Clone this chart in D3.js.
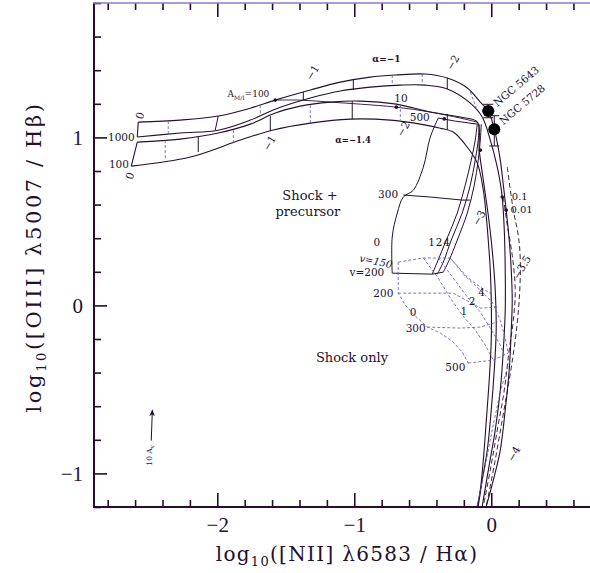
<!DOCTYPE html>
<html><head><meta charset="utf-8">
<script src="https://cdn.jsdelivr.net/npm/d3@7"></script>
<style>body{margin:0;background:#fff}svg{display:block}</style>
</head><body>
<svg id="c" width="590" height="573"></svg>
<script>
// ---------------- DATA (log10 [NII]/Ha , log10 [OIII]/Hb) ----------------
const xMajorTicks = [-2, -1, 0];
const yMajorTicks = [-1, 0, 1];
const xTickLabels = ["\u22122", "\u22121", "0"];
const yTickLabels = ["\u22121", "0", "1"];

// precursor, alpha = -1 band
const alpha1Upper = [[-2.577,1.091],[-2.270,1.103],[-1.993,1.127],[-1.759,1.174],[-1.577,1.222],[-1.321,1.282],[-1.102,1.329],[-0.883,1.359],[-0.701,1.371],[-0.482,1.377],[-0.321,1.353],[-0.175,1.294],[-0.080,1.210],[-0.022,1.157],[0.022,1.049],[0.066,0.865],[0.088,0.716],[0.109,0.567],[0.131,0.389],[0.146,0.210],[0.153,0.032],[0.146,-0.147],[0.131,-0.385],[0.102,-0.623],[0.066,-0.861],[0.015,-1.040],[-0.036,-1.195]];
const alpha1Lower = [[-2.584,1.002],[-2.270,1.026],[-1.993,1.043],[-1.759,1.103],[-1.577,1.168],[-1.321,1.234],[-1.102,1.276],[-0.883,1.299],[-0.664,1.311],[-0.482,1.311],[-0.321,1.288],[-0.153,1.204],[-0.066,1.121],[-0.007,0.984],[0.044,0.823],[0.066,0.728],[0.080,0.645],[0.095,0.448],[0.102,0.210],[0.102,-0.028],[0.088,-0.266],[0.066,-0.504],[0.029,-0.742],[-0.015,-0.951],[-0.066,-1.195]];
// precursor, alpha = -1.4 band
const alpha14Upper = [[-2.584,0.972],[-2.270,0.990],[-1.993,1.026],[-1.759,1.079],[-1.577,1.145],[-1.394,1.186],[-1.175,1.210],[-0.956,1.216],[-0.693,1.198],[-0.445,1.151],[-0.226,1.121],[-0.102,1.091],[-0.088,0.924],[-0.058,0.746],[-0.022,0.538],[0.007,0.329],[0.029,0.091],[0.036,-0.147],[0.022,-0.385],[0.000,-0.623],[-0.029,-0.861],[-0.066,-1.040],[-0.095,-1.195]];
const alpha14Lower = [[-2.628,0.829],[-2.197,0.883],[-1.832,0.984],[-1.599,1.043],[-1.321,1.085],[-1.029,1.109],[-0.737,1.103],[-0.518,1.079],[-0.372,1.055],[-0.277,1.032],[-0.175,0.942],[-0.102,0.847],[-0.058,0.686],[-0.036,0.526],[-0.022,0.389],[-0.007,0.210],[0.000,0.032],[0.000,-0.207],[-0.015,-0.445],[-0.036,-0.683],[-0.058,-0.921],[-0.080,-1.100],[-0.102,-1.195]];
const alpha1Edge = [[-2.577,1.091],[-2.584,1.002]];
const alpha14Edge = [[-2.584,0.972],[-2.628,0.829]];
// log U cross ticks [x1,y1,x2,y2]
const alpha1TicksSolid = [[-1.993,1.127,-2.015,1.043],[-1.372,1.270,-1.372,1.222],[-1.007,1.347,-1.007,1.282],[-0.321,1.353,-0.321,1.288]];
const alpha1TicksDashed = [[-2.358,1.097,-2.358,1.020],[-1.686,1.192,-1.686,1.127],[-0.723,1.371,-0.723,1.311],[-0.504,1.377,-0.504,1.311],[-0.153,1.270,-0.109,1.175]];
const alpha14TicksSolid = [[-2.139,1.008,-2.139,0.913],[-1.613,1.127,-1.613,1.038],[-1.015,1.216,-1.015,1.109],[-0.321,1.140,-0.321,1.045]];
const alpha14TicksDashed = [[-2.380,0.984,-2.380,0.865],[-1.883,1.043,-1.883,0.966],[-1.321,1.192,-1.321,1.085],[-0.664,1.198,-0.664,1.103]];
// A(M/I) sequence
const amiSequence = [[-1.577,1.222],[-1.394,1.222],[-1.175,1.210],[-0.956,1.198],[-0.693,1.180],[-0.445,1.151],[-0.226,1.115],[-0.102,1.091]];

// shock + precursor grid
const spB0 = [[-0.387,1.115],[-0.445,1.002],[-0.496,0.823],[-0.569,0.686],[-0.642,0.645],[-0.686,0.550],[-0.723,0.407],[-0.723,0.192]];
const spB1 = [[-0.431,0.186],[-0.394,0.258],[-0.328,0.389],[-0.248,0.550],[-0.190,0.716],[-0.146,0.865],[-0.117,0.984],[-0.102,1.079]];
const spB2 = [[-0.394,0.186],[-0.350,0.258],[-0.292,0.389],[-0.212,0.550],[-0.153,0.716],[-0.117,0.865],[-0.095,0.984],[-0.088,1.079]];
const spB4 = [[-0.350,0.198],[-0.307,0.270],[-0.248,0.389],[-0.175,0.550],[-0.124,0.716],[-0.095,0.865],[-0.080,0.984],[-0.073,1.079]];
const spV500 = [[-0.387,1.115],[-0.263,1.097],[-0.102,1.079]];
const spV300 = [[-0.642,0.657],[-0.445,0.645],[-0.212,0.627],[-0.153,0.627]];
const spV200 = [[-0.723,0.192],[-0.431,0.186],[-0.350,0.198]];

// shock only grid
const soV150 = [[-0.679,0.258],[-0.496,0.282],[-0.299,0.282],[-0.175,0.168],[-0.080,0.109],[0.015,0.061]];
const soV200 = [[-0.679,0.073],[-0.445,0.073],[-0.277,0.073],[-0.080,-0.016],[0.044,-0.010]];
const soV300 = [[-0.467,-0.129],[-0.226,-0.135],[-0.080,-0.129],[0.044,-0.099]];
const soV500 = [[-0.168,-0.343],[0.015,-0.326],[0.124,-0.284]];
const soB0 = [[-0.679,0.258],[-0.679,0.073],[-0.628,0.002],[-0.562,-0.058],[-0.467,-0.129],[-0.372,-0.165],[-0.285,-0.213],[-0.212,-0.278],[-0.168,-0.343]];
const soB1 = [[-0.496,0.282],[-0.387,0.162],[-0.299,0.044],[-0.212,-0.058],[-0.117,-0.147],[-0.044,-0.236],[0.015,-0.326]];
const soB2 = [[-0.387,0.282],[-0.277,0.162],[-0.175,0.050],[-0.080,-0.040],[-0.007,-0.135],[0.066,-0.236],[0.102,-0.308]];
const soB4 = [[-0.299,0.282],[-0.190,0.174],[-0.080,0.091],[0.007,0.020],[0.066,-0.088],[0.102,-0.195],[0.124,-0.284]];

// extra dashed sequences on the right
const rightDashed1 = [[0.088,0.645],[0.117,0.478],[0.153,0.299],[0.175,0.091],[0.161,-0.088],[0.131,-0.266],[0.095,-0.504],[0.044,-0.742],[-0.007,-0.980],[-0.058,-1.195]];
const rightDashed2 = [[0.117,0.823],[0.161,0.567],[0.197,0.418],[0.212,0.270],[0.204,0.032],[0.175,-0.207],[0.131,-0.445],[0.080,-0.683],[0.022,-0.951],[-0.036,-1.195]];
const rightDashed3 = [[-0.102,-1.195],[-0.036,-0.921],[0.022,-0.683],[0.080,-0.475],[0.139,-0.326]];

// marked points on sequences
const markerDots = [[-1.577,1.222],[-0.693,1.180],[-0.343,1.110],[-0.080,0.924],[0.080,0.645],[0.109,0.567]];

// galaxies
const galaxyNames = ["NGC 5643", "NGC 5728"];
const galaxyX = [-0.022, 0.022];
const galaxyY = [1.157, 1.049];
const galaxyXErr = [0.045, 0.03];
const galaxyYErrLow = [0.04, 0.10];
const galaxyYErrHigh = [0.04, 0.08];

// reddening vector (10 A_V)
const reddeningVector = [[-2.482,-0.805],[-2.474,-0.623]];

// ---------------- DRAWING ----------------
const svg = d3.select('#c');
const x = d3.scaleLinear().domain([-2.9, 0.75]).range([94, 594]);
const y = d3.scaleLinear().domain([-1.2, 1.8]).range([507, 3]);

const INK = '#24102c', BLUE = '#5b50b8';
const serif = "'DejaVu Serif', serif";

svg.append('defs').append('clipPath').attr('id','clip')
  .append('rect').attr('x',94).attr('y',3).attr('width',500).attr('height',504);
svg.select('defs').append('marker').attr('id','arr').attr('viewBox','0 0 10 10')
  .attr('refX',9).attr('refY',5).attr('markerWidth',7).attr('markerHeight',7).attr('orient','auto')
  .append('path').attr('d','M0,1 L10,5 L0,9 L3,5 Z').attr('fill',INK);

const g = svg.append('g').attr('clip-path','url(#clip)');
const smooth = d3.line().x(d=>x(d[0])).y(d=>y(d[1])).curve(d3.curveCatmullRom.alpha(0.5));
const straight = d3.line().x(d=>x(d[0])).y(d=>y(d[1]));

function draw(data, gen, color, width, dash){
  g.append('path').attr('d', gen(data)).attr('fill','none').attr('stroke',color)
   .attr('stroke-width',width).attr('stroke-dasharray',dash||null);
}
[alpha1Upper, alpha1Lower, alpha14Upper, alpha14Lower].forEach(c=>draw(c, smooth, INK, 1.1));
[alpha1Edge, alpha14Edge].forEach(c=>draw(c, straight, INK, 1.1));
draw(amiSequence, smooth, INK, 0.9);
[spB0, spB1, spB2, spB4].forEach(c=>draw(c, smooth, INK, 1.0));
[spV500, spV300, spV200].forEach(c=>draw(c, straight, INK, 1.0));
[soV150, soV200, soV300, soV500, soB0, soB1, soB2, soB4].forEach(c=>draw(c, straight, BLUE, 0.8, '3,2'));
[rightDashed1, rightDashed2].forEach(c=>draw(c, smooth, INK, 0.9, '5,3'));
draw(rightDashed3, smooth, BLUE, 0.8, '3,2');

function ticks(list, color, width, dash){
  list.forEach(t=>g.append('line').attr('x1',x(t[0])).attr('y1',y(t[1])).attr('x2',x(t[2])).attr('y2',y(t[3]))
    .attr('stroke',color).attr('stroke-width',width).attr('stroke-dasharray',dash||null));
}
ticks(alpha1TicksSolid, INK, 1.0); ticks(alpha14TicksSolid, INK, 1.0);
ticks(alpha1TicksDashed, BLUE, 0.8, '3,2'); ticks(alpha14TicksDashed, BLUE, 0.8, '3,2');

markerDots.forEach(d=>g.append('circle').attr('cx',x(d[0])).attr('cy',y(d[1])).attr('r',1.8).attr('fill',INK));

// galaxies with error bars
galaxyNames.forEach((n,i)=>{
  const cx=x(galaxyX[i]), cy=y(galaxyY[i]);
  const yl=y(galaxyY[i]-galaxyYErrLow[i]), yh=y(galaxyY[i]+galaxyYErrHigh[i]);
  const xl=x(galaxyX[i]-galaxyXErr[i]), xh=x(galaxyX[i]+galaxyXErr[i]);
  g.append('line').attr('x1',cx).attr('x2',cx).attr('y1',yl).attr('y2',yh).attr('stroke',INK).attr('stroke-width',1);
  g.append('line').attr('x1',cx-5).attr('x2',cx+5).attr('y1',yl).attr('y2',yl).attr('stroke',INK).attr('stroke-width',1);
  g.append('line').attr('x1',cx-5).attr('x2',cx+5).attr('y1',yh).attr('y2',yh).attr('stroke',INK).attr('stroke-width',1);
  g.append('line').attr('x1',xl).attr('x2',xh).attr('y1',cy).attr('y2',cy).attr('stroke',INK).attr('stroke-width',1);
  g.append('circle').attr('cx',cx).attr('cy',cy).attr('r',6).attr('fill','#000');
  svg.append('text').attr('transform',`translate(${cx+9},${cy-4}) rotate(-40)`)
    .attr('font-family',serif).attr('font-size',10.5).attr('fill',INK).text(n);
});

// reddening arrow
svg.append('line').attr('x1',x(reddeningVector[0][0])).attr('y1',y(reddeningVector[0][1]))
  .attr('x2',x(reddeningVector[1][0])).attr('y2',y(reddeningVector[1][1]))
  .attr('stroke',INK).attr('stroke-width',1).attr('marker-end','url(#arr)');
{
  const t = svg.append('text').attr('transform',`translate(${x(reddeningVector[0][0])+1},${y(reddeningVector[0][1])+25}) rotate(-90)`)
    .attr('font-family',serif).attr('font-size',7.5).attr('fill',INK);
  t.append('tspan').text('10 A');
  t.append('tspan').attr('font-size',5.5).attr('dy',2).text('v');
}

// annotations
function lab(txt, dx, dy, opts={}){
  const t = svg.append('text').attr('font-family',serif).attr('font-size',opts.size||9.5).attr('fill',INK)
    .attr('text-anchor',opts.anchor||'start').attr('font-weight',opts.bold?'bold':null)
    .attr('font-style',opts.italic?'italic':null)
    .attr('transform',`translate(${x(dx)},${y(dy)})`+(opts.rot?` rotate(${opts.rot})`:''));
  t.text(txt);
  return t;
}
lab('\u03b1=\u22121', -0.869, 1.448, {bold:true, size:9});
lab('\u03b1=\u22121.4', -1.139, 0.966, {bold:true, size:8.5});
{
  const t = svg.append('text').attr('font-family',serif).attr('font-size',9).attr('fill',INK)
    .attr('transform',`translate(${x(-1.925)},${y(1.240)})`);
  t.append('tspan').text('A');
  t.append('tspan').attr('font-size',6).attr('dy',2.5).text('M/I');
  t.append('tspan').attr('dy',-2.5).text('=100');
}
lab('0', -2.548, 1.103, {rot:-70, size:10.5});
lab('1000', -2.603, 0.978, {anchor:'end', size:10.5});
lab('100', -2.645, 0.817, {anchor:'end', size:10.5});
lab('0', -2.62, 0.745, {rot:-70, size:10.5});
lab('\u22121', -1.31, 1.335, {rot:-60, size:10.5});
lab('\u22121', -1.625, 0.915, {rot:-60, size:10.5});
lab('\u22122', -0.285, 1.395, {rot:-60, size:10.5});
lab('\u22122', -0.648, 1.000, {rot:-60, size:10.5});
lab('\u22123', -0.095, 0.470, {rot:-60, size:10.5});
lab('\u22123.5', 0.20, 0.150, {rot:-60, size:10.5});
lab('\u22124', 0.16, -0.935, {rot:-60, size:10.5});
lab('10', -0.708, 1.212, {size:10.5});
lab('500', -0.595, 1.100, {size:10.5});
lab('Shock +', -1.525, 0.625, {size:13});
lab('precursor', -1.575, 0.535, {size:13});
lab('300', -0.68, 0.640, {anchor:'end', size:10.5});
lab('0', -0.86, 0.355, {size:10.5});
lab('1', -0.46, 0.355, {size:10.5});
lab('2', -0.405, 0.355, {size:10.5});
lab('4', -0.35, 0.355, {size:10.5});
lab('v=150', -0.965, 0.262, {italic:true, rot:12, size:10});
lab('v=200', -1.035, 0.176, {size:10.5});
lab('200', -0.715, 0.050, {anchor:'end', size:10.5});
lab('0', -0.595, -0.062, {size:10.5});
lab('300', -0.625, -0.160, {size:10.5});
lab('1', -0.225, -0.060, {size:10.5});
lab('2', -0.165, 0.0, {size:10.5});
lab('4', -0.095, 0.055, {size:10.5});
lab('Shock only', -1.28, -0.335, {size:13});
lab('500', -0.335, -0.390, {size:10.5});
lab('0.1', 0.15, 0.625, {size:10});
lab('0.01', 0.14, 0.548, {size:10});

// ---- axes ----
const minorX = d3.range(-2.8, 0.8, 0.2).map(v=>+v.toFixed(1)).filter(v=>!xMajorTicks.includes(v));
const minorY = d3.range(-1.2, 1.81, 0.2).map(v=>+v.toFixed(1)).filter(v=>!yMajorTicks.includes(v));
const axisColor = '#2a0c30';
function styleAxis(sel){ sel.select('.domain').remove(); sel.selectAll('line').attr('stroke',axisColor).attr('stroke-width',1.6); }

svg.append('g').attr('transform','translate(0,507)')
  .call(d3.axisBottom(x).tickValues(minorX).tickSize(-7).tickFormat('')).call(styleAxis);
svg.append('g').attr('transform','translate(0,507)')
  .call(d3.axisBottom(x).tickValues(xMajorTicks).tickSize(-14).tickPadding(10).tickFormat((d,i)=>xTickLabels[i]))
  .call(styleAxis)
  .call(s=>s.selectAll('text').attr('font-family',"'Liberation Serif', serif").attr('font-size',21).attr('fill',INK));
svg.append('g').attr('transform','translate(0,3)')
  .call(d3.axisTop(x).tickValues(minorX).tickSize(-7).tickFormat('')).call(styleAxis);
svg.append('g').attr('transform','translate(0,3)')
  .call(d3.axisTop(x).tickValues(xMajorTicks).tickSize(-14).tickFormat('')).call(styleAxis);
svg.append('g').attr('transform','translate(94,0)')
  .call(d3.axisLeft(y).tickValues(minorY).tickSize(-7).tickFormat('')).call(styleAxis);
svg.append('g').attr('transform','translate(94,0)')
  .call(d3.axisLeft(y).tickValues(yMajorTicks).tickSize(-13).tickPadding(11).tickFormat((d,i)=>yTickLabels[i]))
  .call(styleAxis)
  .call(s=>s.selectAll('text').attr('font-family',"'Liberation Serif', serif").attr('font-size',21).attr('fill',INK));

svg.append('line').attr('x1',94).attr('x2',94).attr('y1',3).attr('y2',508).attr('stroke',axisColor).attr('stroke-width',2);
svg.append('line').attr('x1',93).attr('x2',590).attr('y1',507).attr('y2',507).attr('stroke',axisColor).attr('stroke-width',2);
svg.append('line').attr('x1',93).attr('x2',590).attr('y1',3).attr('y2',3).attr('stroke','#8a7cc8').attr('stroke-width',1.5);

// axis titles
{
  const t = svg.append('text').attr('x',347).attr('y',561).attr('text-anchor','middle')
    .attr('font-family',serif).attr('font-size',20).attr('letter-spacing',1.3).attr('fill',INK);
  t.append('tspan').text('log');
  t.append('tspan').attr('font-size',13).attr('dy',5).text('10');
  t.append('tspan').attr('dy',-5).text('([NII] \u03bb6583 / H\u03b1)');
}
{
  const t = svg.append('text').attr('transform','translate(41,257) rotate(-90)').attr('text-anchor','middle')
    .attr('font-family',serif).attr('font-size',21).attr('letter-spacing',2.6).attr('fill',INK);
  t.append('tspan').text('log');
  t.append('tspan').attr('font-size',13).attr('dy',5).text('10');
  t.append('tspan').attr('dy',-5).text('([OIII] \u03bb5007 / H\u03b2)');
}
</script>
</body></html>
